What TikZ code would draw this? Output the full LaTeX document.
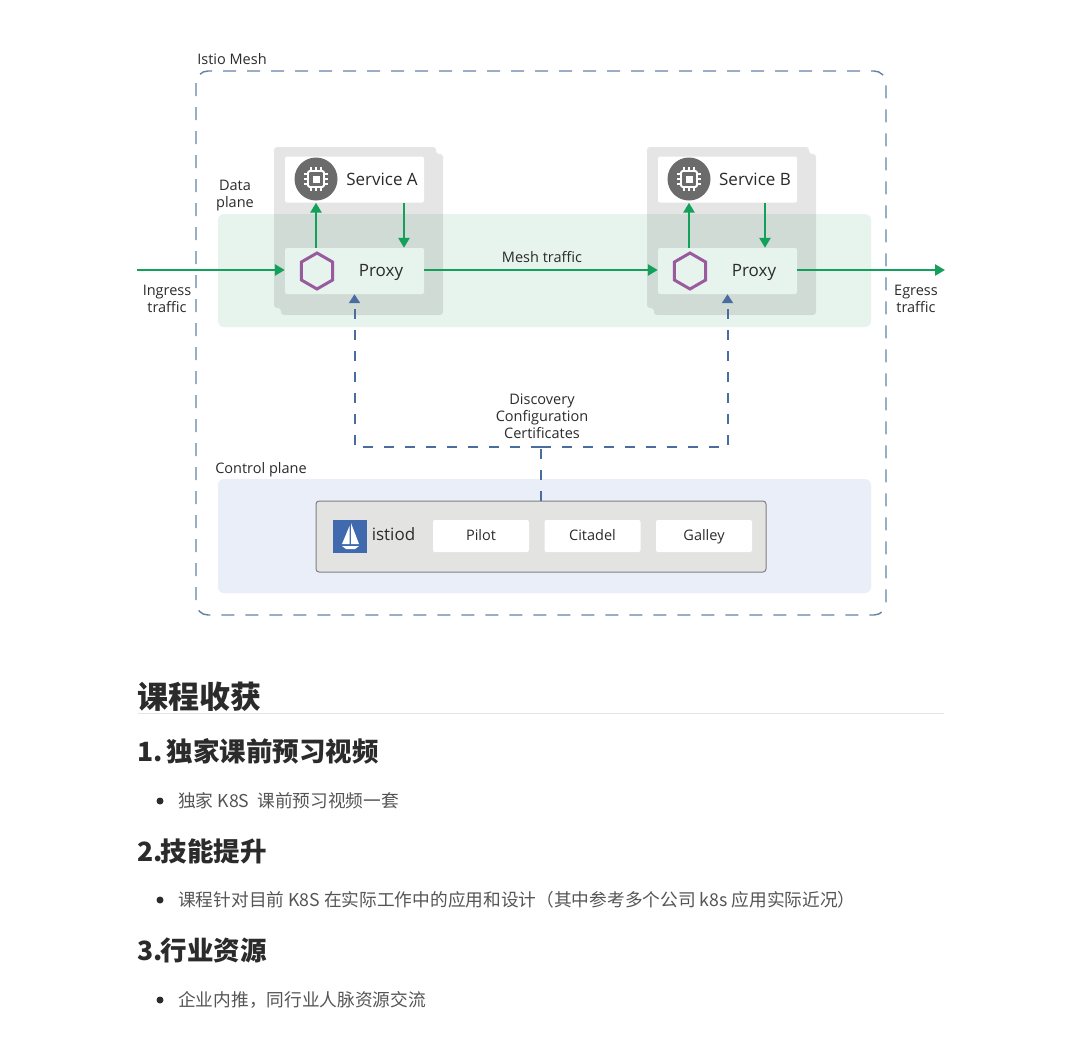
\documentclass[tikz,border=0pt]{standalone}
\usepackage{fontspec}
\setmainfont{Open Sans}
\newfontfamily\cjk{Noto Sans CJK SC}
\usetikzlibrary{shapes.geometric,arrows.meta,positioning}
\definecolor{meshblue}{HTML}{6482A8}
\definecolor{ctrlblue}{HTML}{4A6C9F}
\definecolor{flowgreen}{HTML}{12A05A}
\definecolor{planegreen}{HTML}{E7F4ED}
\definecolor{planeblue}{HTML}{E9EEF8}
\definecolor{istiogray}{HTML}{E3E3E1}
\definecolor{hexpurple}{HTML}{9A5B9E}
\definecolor{chipgray}{HTML}{6B6B6B}
\definecolor{logoblue}{HTML}{4169AE}
\definecolor{inkdark}{HTML}{2B2B2B}
\definecolor{inkbody}{HTML}{555555}
\begin{document}
\begin{tikzpicture}[x=1pt, y=-1pt]
	\tikzstyle{Label}	= [text=inkdark, inner sep=0pt, align=center, font=\fontsize{14.5}{17}\selectfont]
	\tikzstyle{Big}		= [font=\fontsize{17}{20}\selectfont]
	\tikzstyle{Plane}	= [rounded corners=6pt]
	\tikzstyle{Box}		= [rectangle, rounded corners=2pt, minimum width=139pt, minimum height=46pt, inner sep=0pt]
	\tikzstyle{Part}	= [rectangle, rounded corners=2pt, fill=white, minimum width=96pt, minimum height=32pt, inner sep=0pt, text height=10pt, text depth=2pt, text=inkdark, font=\fontsize{14.5}{17}\selectfont]
	\tikzstyle{Hex}		= [regular polygon, regular polygon sides=6, shape border rotate=30, draw=hexpurple, line width=3pt, minimum size=36pt, inner sep=0pt]
	\tikzstyle{Flow}	= [flowgreen, line width=2.5pt, -{Triangle[width=11pt,length=10pt]}]
	\tikzstyle{Ctrl}	= [ctrlblue, line width=2pt, dash pattern=on 10pt off 11pt]
	\tikzstyle{Tip}		= [-{Triangle[width=11pt,length=9pt]}]
	\tikzstyle{Head}	= [anchor=west, inner sep=0pt, text=inkdark, font=\cjk\bfseries\fontsize{26.5}{30}\selectfont]
	\tikzstyle{Body}	= [anchor=west, inner sep=0pt, text=inkbody, font=\cjk\fontsize{17.7}{22}\selectfont]
	\tikzstyle{Dot}		= [circle, fill=inkdark, minimum size=7pt, inner sep=0pt]

	\useasboundingbox[fill=white] (0,0) rectangle (1080,1045);

	% planes and mesh
	\draw[meshblue, line width=1.4pt, dash pattern=on 13pt off 11pt, rounded corners=12pt] (196,71) rectangle (886,615);
	\fill[planegreen, Plane] (218,214) rectangle (871,327);
	\fill[planeblue, Plane] (218,479) rectangle (871,593);
	\fill[black, opacity=0.1, rounded corners=3pt] (274,147) -- (436,147) -- (436,154) -- (443,154) -- (443,315) -- (281,315) -- (281,308) -- (274,308) -- cycle;
	\fill[black, opacity=0.1, rounded corners=3pt] (647,147) -- (809,147) -- (809,154) -- (816,154) -- (816,315) -- (654,315) -- (654,308) -- (647,308) -- cycle;

	% services and proxies
	\node (serviceA) at (354.5,179.5) [Box, fill=white] {};
	\node (serviceB) at (727.5,179.5) [Box, fill=white] {};
	\node (proxyA) at (354.5,271) [Box, fill=planegreen] {};
	\node (proxyB) at (727.5,271) [Box, fill=planegreen] {};
	\node (hexA) at (317,271) [Hex] {};
	\node (hexB) at (690,271) [Hex] {};
	\node (proxyTextA) at (381,272.5) [Label, Big] {Proxy};
	\node (proxyTextB) at (754,272.5) [Label, Big] {Proxy};
	\node (serviceTextA) at (382,179) [Label, Big] {Service A};
	\node (serviceTextB) at (755,179) [Label, Big] {Service B};

	% chip icons
	\foreach \cx/\name in {316/chipA, 689/chipB} {
		\node (\name) at (\cx,179) [circle, fill=chipgray, minimum size=43pt, inner sep=0pt] {};
		\draw[white, line width=1.8pt, rounded corners=1.5pt] (\cx-8,171) rectangle (\cx+8,187);
		\fill[white] (\cx-3.5,175.5) rectangle (\cx+3.5,182.5);
		\foreach \d in {-5,0,5} {
			\draw[white, line width=1.4pt] (\cx+\d,167) -- (\cx+\d,171);
			\draw[white, line width=1.4pt] (\cx+\d,187) -- (\cx+\d,191);
			\draw[white, line width=1.4pt] (\cx-12,179+\d) -- (\cx-8,179+\d);
			\draw[white, line width=1.4pt] (\cx+8,179+\d) -- (\cx+12,179+\d);
		}
	}

	% control plane
	\node (istiod) at (541,536.5) [rectangle, draw=gray, fill=istiogray, line width=1pt, rounded corners=3pt, minimum width=450pt, minimum height=71pt, inner sep=0pt] {};
	\node (logo) at (350,536) [rectangle, fill=logoblue, minimum width=34pt, minimum height=33pt, inner sep=0pt] {};
	\fill[white] (349.5,526) -- (349.5,544) -- (342,544) -- cycle;
	\fill[white] (351,523) -- (359,544) -- (351,544) -- cycle;
	\fill[white] (342,546) -- (359,546) -- (355,549) -- (346,549) -- cycle;
	\node (istiodText) at (393.5,534) [Label, Big] {istiod};
	\node (pilot) at (481,536) [Part] {Pilot};
	\node (citadel) at (592.5,536) [Part] {Citadel};
	\node (galley) at (704,536) [Part] {Galley};

	% labels
	\node (meshText) at (232,59) [Label] {Istio Mesh};
	\node (dataText) at (235,196) [Label] {Data\\plane};
	\node (ingressText) at (167,299) [Label] {Ingress\\traffic};
	\node (egressText) at (916,299) [Label] {Egress\\traffic};
	\node (meshTraffic) at (542,257) [Label] {Mesh traffic};
	\node (xdsText) at (542,416.5) [Label] {Discovery\\Configuration\\Certificates};
	\node (controlText) at (261,469.5) [Label] {Control plane};

	% connectors
	\coordinate (ingress) at (137,270);
	\coordinate (egress) at (945,270);
	\coordinate (bus) at (541,447);
	\draw[Flow] (ingress) -- (proxyA.west |- ingress);
	\draw[Flow] (proxyA.east |- ingress) -- (proxyB.west |- ingress);
	\draw[Flow] (proxyB.east |- ingress) -- (egress);
	\draw[Flow] ([xshift=-38.5pt]proxyA.north) -- ([xshift=-38.5pt]serviceA.south);
	\draw[Flow] ([xshift=49.5pt]serviceA.south) -- ([xshift=49.5pt]proxyA.north);
	\draw[Flow] ([xshift=-38.5pt]proxyB.north) -- ([xshift=-38.5pt]serviceB.south);
	\draw[Flow] ([xshift=37.5pt]serviceB.south) -- ([xshift=37.5pt]proxyB.north);
	\draw[Ctrl] (istiod.north) -- (bus);
	\draw[Ctrl, Tip] (bus) -| (proxyA.south);
	\draw[Ctrl, Tip] (bus) -| (proxyB.south);

	% text below the diagram
	\node (title) at (137,697) [Head, font=\cjk\bfseries\fontsize{31}{34}\selectfont] {课程收获};
	\node (ruleL) at (137,713.5) [inner sep=0pt] {};
	\node (ruleR) at (945,713.5) [inner sep=0pt] {};
	\draw[black!10, line width=1pt] (ruleL) -- (ruleR);
	\node (headOne) at (137,751) [Head] {1.\kern4pt 独家课前预习视频};
	\node (dotOne) at (160,801) [Dot] {};
	\node (bodyOne) at (178,801) [Body] {独家 K8S\ \ 课前预习视频一套};
	\node (headTwo) at (137,851) [Head] {2.\kern-2pt 技能提升};
	\node (dotTwo) at (160,900) [Dot] {};
	\node (bodyTwo) at (178,900) [Body] {课程针对目前 K8S 在实际工作中的应用和设计（其中参考多个公司 k8s 应用实际近况）};
	\node (headThree) at (137,950) [Head] {3.\kern-2pt 行业资源};
	\node (dotThree) at (160,1000) [Dot] {};
	\node (bodyThree) at (178,1000) [Body] {企业内推，同行业人脉资源交流};
\end{tikzpicture}
\end{document}
